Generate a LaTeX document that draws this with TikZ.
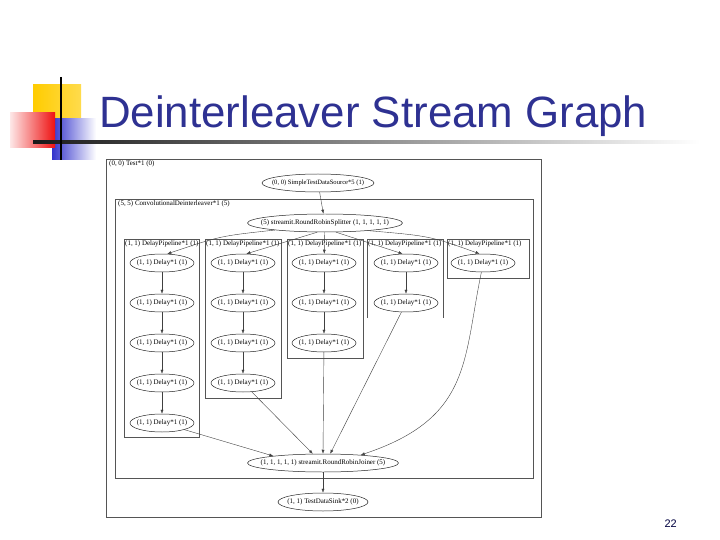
\documentclass[tikz,border=0pt]{standalone}
\usepackage{fontspec}
\setmainfont{Liberation Serif}
\newfontfamily\slidefont{Liberation Sans}
\usetikzlibrary{shapes.geometric,arrows.meta}
\definecolor{titleblue}{HTML}{2E3192}
\definecolor{decoyellow}{HTML}{FFCC00}
\definecolor{decoblue}{HTML}{3333CC}
\definecolor{decored}{HTML}{EE1111}
\definecolor{boxgray}{HTML}{555555}
% text that does not widen its ellipse
\newcommand\flattext[1]{\makebox[0pt]{#1}}

\tikzset{
  stage/.style={ellipse, draw=black!85, line width=0.5pt, inner sep=0pt,
    minimum height=18bp, font=\fontsize{7}{8}\selectfont},
  cluster/.style={draw=boxgray, line width=0.6pt},
  clusterlabel/.style={anchor=west, inner sep=0pt, font=\fontsize{7}{8}\selectfont},
  flow/.style={draw=black!75, line width=0.4pt, -{Latex[length=4bp,width=3bp]}},
}

\begin{document}
\begin{tikzpicture}[x=1bp, y=-1bp]
    % slide frame
        \useasboundingbox (0,0) rectangle (720,540);
        \fill[white] (0,0) rectangle (720,540);

    % corner decoration
        \fill[left color=decoyellow, right color=decoyellow!70] (33,85) rectangle (81,126);
        \fill[left color=decoblue, right color=white] (52,119) rectangle (96,160);
        \fill[left color=decored!10, right color=decored] (10,113) rectangle (55,148);
        \shade[left color=black!90, right color=white] (33,141) rectangle (700,143.5);
        \draw[line width=2bp] (61,77) -- (61,160);

    % title and page number
        \node[anchor=base west, inner sep=0pt, text=titleblue,
              font=\slidefont\fontsize{44}{48}\selectfont] (title) at (99,128) {Deinterleaver Stream Graph};
        \node[anchor=base east, inner sep=0pt, text=black!75!blue,
              font=\slidefont\fontsize{11}{12}\selectfont] (page) at (677,527) {22};

    % clusters
        \draw[cluster] (106,159) rectangle (541,517);
        \node[clusterlabel] (testlbl) at (109,164) {(0, 0) Test*1 (0)};
        \draw[cluster] (115,199) rectangle (533,478);
        \node[clusterlabel] (deintlbl) at (118,204) {(5, 5) ConvolutionalDeinterleaver*1 (5)};
        \draw[cluster] (124,239) rectangle (199,437);
        \draw[cluster] (205,239) rectangle (281,398);
        \draw[cluster] (287,239) rectangle (363,358);
        \draw[cluster] (367,318) -- (367,239) -- (443,239) -- (443,318);
        \draw[cluster] (447,239) rectangle (529,278);
        \foreach \x [count=\c] in {125,206,288,368,448}
            \node[clusterlabel] (pipe\c) at (\x,244) {(1, 1) DelayPipeline*1 (1)};

    % filters
        \node[stage, minimum width=112bp, font=\fontsize{6.6}{8}\selectfont] (src) at (318,183) {\flattext{(0, 0) SimpleTestDataSource*5 (1)}};
        \node[stage, minimum width=155bp] (split) at (325,223) {\flattext{(5) streamit.RoundRobinSplitter (1, 1, 1, 1, 1)}};
        \foreach \c/\x/\n in {1/162/5, 2/243/4, 3/324/3, 4/406/2, 5/483/1}
            \foreach \r in {1,...,\n}
                \node[stage, minimum width=64bp] (d\c\r) at (\x,223+40*\r) {\flattext{(1, 1) Delay*1 (1)}};
        \node[stage, minimum width=151bp] (join) at (323,463) {\flattext{(1, 1, 1, 1, 1) streamit.RoundRobinJoiner (5)}};
        \node[stage, minimum width=90bp] (sink) at (323,502) {\flattext{(1, 1) TestDataSink*2 (0)}};

    % channels
        \draw[flow] (src) -- (split);
        \draw[flow] (split.188) .. controls (220,236) .. (d11.60);
        \draw[flow] (split.230) -- (d21.70);
        \draw[flow] (split) -- (d31);
        \draw[flow] (split.-40) -- (d41.110);
        \draw[flow] (split.-10) .. controls (430,236) .. (d51.110);
        \foreach \c/\n in {1/5, 2/4, 3/3, 4/2}
            \foreach \r in {2,...,\n} {
                \pgfmathtruncatemacro\p{\r-1}
                \draw[flow] (d\c\p) -- (d\c\r);
            }
        \draw[flow] (d15) -- (join.172);
        \draw[flow] (d24) -- (join.138);
        \draw[flow] (d33) -- (join.north);
        \draw[flow] (d42) -- (join.52);
        \draw[flow] (d51.-100) .. controls (463,360) and (472,418) .. (join.12);
        \draw[flow] (join) -- (sink);
\end{tikzpicture}
\end{document}
